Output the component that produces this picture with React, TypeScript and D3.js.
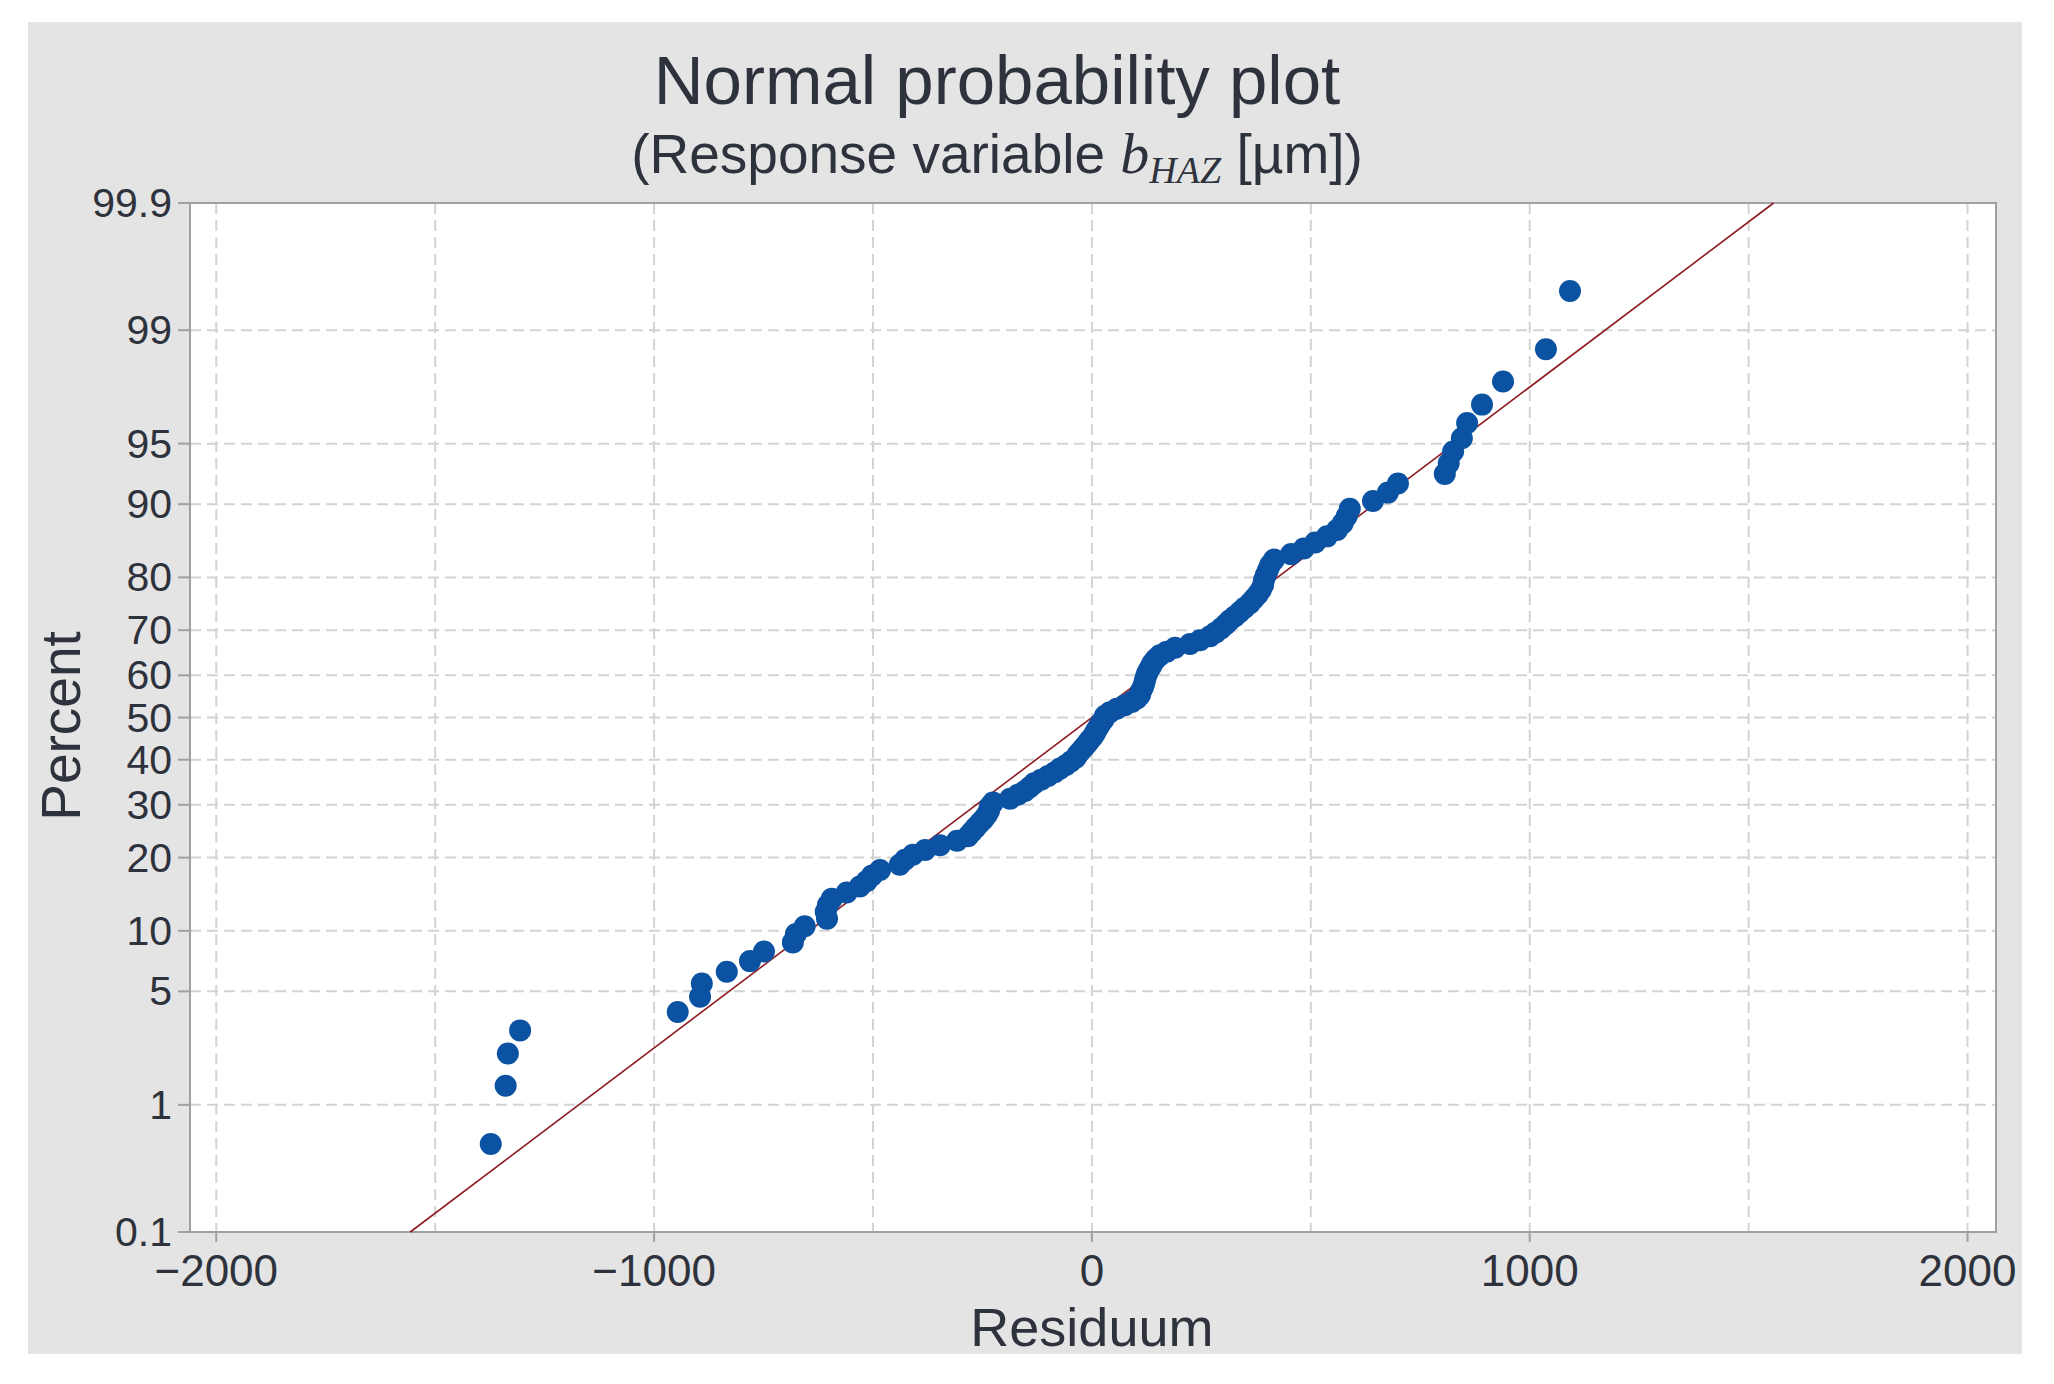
import React, { useEffect, useRef } from "react";
import * as d3 from "d3";

// canvas and plot box (px)
const W = 2054;
const H = 1384;
const M = { left: 190, right: 1996, top: 203, bottom: 1232 };

// residuals, sorted (one per point)
const residuals: number[] = [
  -1373, -1339, -1334, -1306, -946, -895, -891, -834, -781, -749,
  -683, -676, -656, -605, -608, -603, -594, -560, -530, -514,
  -502, -484, -439, -427, -409, -381, -347, -308, -283, -274,
  -265, -256, -247, -240, -235, -233, -226, -187, -169, -153,
  -142, -132, -116, -100, -85, -73, -59, -48, -37, -32,
  -25, -18, -11, -5, 2, 7, 11, 16, 21, 27,
  30, 41, 57, 75, 91, 103, 110, 112, 116, 119,
  121, 123, 126, 130, 135, 139, 146, 155, 171, 190,
  224, 247, 270, 283, 295, 306, 315, 327, 338, 349,
  361, 370, 379, 386, 391, 393, 397, 402, 407, 416,
  455, 484, 510, 537, 560, 573, 582, 589, 642, 676,
  699, 806, 815, 825, 845, 857, 891, 939, 1037, 1092,
];

// cumulative percent of each point
const percents: number[] = [
  0.52, 1.35, 2.18, 3.01, 3.85, 4.68, 5.51, 6.34, 7.17, 8.0,
  8.84, 9.67, 10.5, 11.33, 12.16, 12.99, 13.83, 14.66, 15.49, 16.32,
  17.15, 17.98, 18.82, 19.65, 20.48, 21.31, 22.14, 22.97, 23.8, 24.64,
  25.47, 26.3, 27.13, 27.96, 28.79, 29.63, 30.46, 31.29, 32.12, 32.95,
  33.78, 34.62, 35.45, 36.28, 37.11, 37.94, 38.77, 39.6, 40.44, 41.27,
  42.1, 42.93, 43.76, 44.59, 45.43, 46.26, 47.09, 47.92, 48.75, 49.58,
  50.42, 51.25, 52.08, 52.91, 53.74, 54.57, 55.41, 56.24, 57.07, 57.9,
  58.73, 59.56, 60.4, 61.23, 62.06, 62.89, 63.72, 64.55, 65.38, 66.22,
  67.05, 67.88, 68.71, 69.54, 70.37, 71.21, 72.04, 72.87, 73.7, 74.53,
  75.36, 76.2, 77.03, 77.86, 78.69, 79.52, 80.35, 81.18, 82.02, 82.85,
  83.68, 84.51, 85.34, 86.17, 87.01, 87.84, 88.67, 89.5, 90.33, 91.16,
  92.0, 92.83, 93.66, 94.49, 95.32, 96.15, 96.99, 97.82, 98.65, 99.48,
];

// reference line end points [residual, percent]
const fitLine: [number, number][] = [
  [-1557, 0.1],
  [1557, 99.9],
];

const xTicks = [-2000, -1000, 0, 1000, 2000];
const xTickLabels = ["\u22122000", "\u22121000", "0", "1000", "2000"];
const xGrid = [-2000, -1500, -1000, -500, 0, 500, 1000, 1500, 2000];
const yTicks = [0.1, 1, 5, 10, 20, 30, 40, 50, 60, 70, 80, 90, 95, 99, 99.9];
const yTickLabels = ["0.1", "1", "5", "10", "20", "30", "40", "50", "60", "70", "80", "90", "95", "99", "99.9"];

const SANS = "'Liberation Sans', Arial, sans-serif";
const SERIF = "'Liberation Serif', 'Times New Roman', serif";
const INK = "#2e323c";

// inverse of the normal CDF (Acklam), used for the probability axis
function probit(p: number): number {
  const a = [-39.69683028665376, 220.9460984245205, -275.9285104469687, 138.357751867269, -30.66479806614716, 2.506628277459239];
  const b = [-54.47609879822406, 161.5858368580409, -155.6989798598866, 66.80131188771972, -13.28068155288572];
  const c = [-0.007784894002430293, -0.3223964580411365, -2.400758277161838, -2.549732539343734, 4.374664141464968, 2.938163982698783];
  const d = [0.007784695709041462, 0.3224671290700398, 2.445134137142996, 3.754408661907416];
  const pl = 0.02425;
  if (p < pl) {
    const q = Math.sqrt(-2 * Math.log(p));
    return (((((c[0] * q + c[1]) * q + c[2]) * q + c[3]) * q + c[4]) * q + c[5]) / ((((d[0] * q + d[1]) * q + d[2]) * q + d[3]) * q + 1);
  }
  if (p > 1 - pl) {
    const q = Math.sqrt(-2 * Math.log(1 - p));
    return -(((((c[0] * q + c[1]) * q + c[2]) * q + c[3]) * q + c[4]) * q + c[5]) / ((((d[0] * q + d[1]) * q + d[2]) * q + d[3]) * q + 1);
  }
  const q = p - 0.5;
  const r = q * q;
  return ((((((a[0] * r + a[1]) * r + a[2]) * r + a[3]) * r + a[4]) * r + a[5]) * q) / (((((b[0] * r + b[1]) * r + b[2]) * r + b[3]) * r + b[4]) * r + 1);
}

const App: React.FC = () => {
  const ref = useRef<SVGSVGElement | null>(null);

  useEffect(() => {
    if (!ref.current) return;
    const svg = d3.select(ref.current);
    svg.selectAll("*").remove();

    const x = d3.scaleLinear().domain([-2060, 2065]).range([M.left, M.right]);
    const zScale = d3.scaleLinear().domain([probit(0.001), probit(0.999)]).range([M.bottom, M.top]);
    const y = (pct: number) => zScale(probit(pct / 100));

    // backgrounds
    svg.append("rect").attr("x", 28).attr("y", 22).attr("width", 1994).attr("height", 1332).attr("fill", "#e4e4e4");
    svg.append("rect")
      .attr("x", M.left).attr("y", M.top)
      .attr("width", M.right - M.left).attr("height", M.bottom - M.top)
      .attr("fill", "#ffffff");

    // grid
    const grid = svg.append("g").attr("stroke", "#d3d3d3").attr("stroke-width", 2).attr("stroke-dasharray", "11,6");
    grid.selectAll("line.v").data(xGrid).enter().append("line")
      .attr("x1", (d) => x(d)).attr("x2", (d) => x(d))
      .attr("y1", M.top).attr("y2", M.bottom);
    grid.selectAll("line.h").data(yTicks).enter().append("line")
      .attr("x1", M.left).attr("x2", M.right)
      .attr("y1", (d) => y(d)).attr("y2", (d) => y(d));

    // frame
    svg.append("rect")
      .attr("x", M.left).attr("y", M.top)
      .attr("width", M.right - M.left).attr("height", M.bottom - M.top)
      .attr("fill", "none").attr("stroke", "#a0a0a0").attr("stroke-width", 2);

    // ticks + labels
    const tk = svg.append("g").attr("stroke", "#a0a0a0").attr("stroke-width", 2);
    tk.selectAll("line.x").data(xTicks).enter().append("line")
      .attr("x1", (d) => x(d)).attr("x2", (d) => x(d))
      .attr("y1", M.bottom).attr("y2", M.bottom + 10);
    tk.selectAll("line.y").data(yTicks).enter().append("line")
      .attr("x1", M.left - 12).attr("x2", M.left)
      .attr("y1", (d) => y(d)).attr("y2", (d) => y(d));

    svg.append("g").selectAll("text").data(xTicks).enter().append("text")
      .attr("x", (d) => x(d)).attr("y", 1286)
      .attr("text-anchor", "middle")
      .attr("font-family", SANS).attr("font-size", 44).attr("fill", INK)
      .text((_, i) => xTickLabels[i]);

    svg.append("g").selectAll("text").data(yTicks).enter().append("text")
      .attr("x", 172).attr("y", (d) => y(d))
      .attr("text-anchor", "end").attr("dominant-baseline", "central")
      .attr("font-family", SANS).attr("font-size", 41).attr("fill", INK)
      .text((_, i) => yTickLabels[i]);

    // fitted line
    const line = d3.line<[number, number]>().x((d) => x(d[0])).y((d) => y(d[1]));
    svg.append("path").datum(fitLine).attr("d", line)
      .attr("fill", "none").attr("stroke", "#8e1b22").attr("stroke-width", 1.6);

    // points
    svg.append("g").selectAll("circle").data(residuals).enter().append("circle")
      .attr("cx", (d) => x(d)).attr("cy", (_, i) => y(percents[i]))
      .attr("r", 11).attr("fill", "#0b52a2");

    // titles
    svg.append("text").attr("x", 997).attr("y", 104).attr("text-anchor", "middle")
      .attr("font-family", SANS).attr("font-size", 69).attr("fill", INK)
      .text("Normal probability plot");

    const sub = svg.append("text").attr("x", 997).attr("y", 173).attr("text-anchor", "middle")
      .attr("font-family", SANS).attr("font-size", 55).attr("fill", INK);
    sub.append("tspan").text("(Response variable ");
    sub.append("tspan").attr("font-family", SERIF).attr("font-style", "italic").attr("font-size", 58).text("b");
    sub.append("tspan").attr("font-family", SERIF).attr("font-style", "italic").attr("font-size", 38).attr("dy", 10).text("HAZ");
    sub.append("tspan").attr("dy", -10).text(" [\u00b5m])");

    svg.append("text").attr("x", x(0)).attr("y", 1346).attr("text-anchor", "middle")
      .attr("font-family", SANS).attr("font-size", 54).attr("fill", INK)
      .text("Residuum");

    svg.append("text").attr("transform", "translate(80,726) rotate(-90)").attr("text-anchor", "middle")
      .attr("font-family", SANS).attr("font-size", 55).attr("fill", INK)
      .text("Percent");
  }, []);

  return (
    <div>
      <style>{"body{margin:0;background:#fff;overflow:hidden}"}</style>
      <svg ref={ref} width={W} height={H} style={{ display: "block" }} />
    </div>
  );
};

export default App;
